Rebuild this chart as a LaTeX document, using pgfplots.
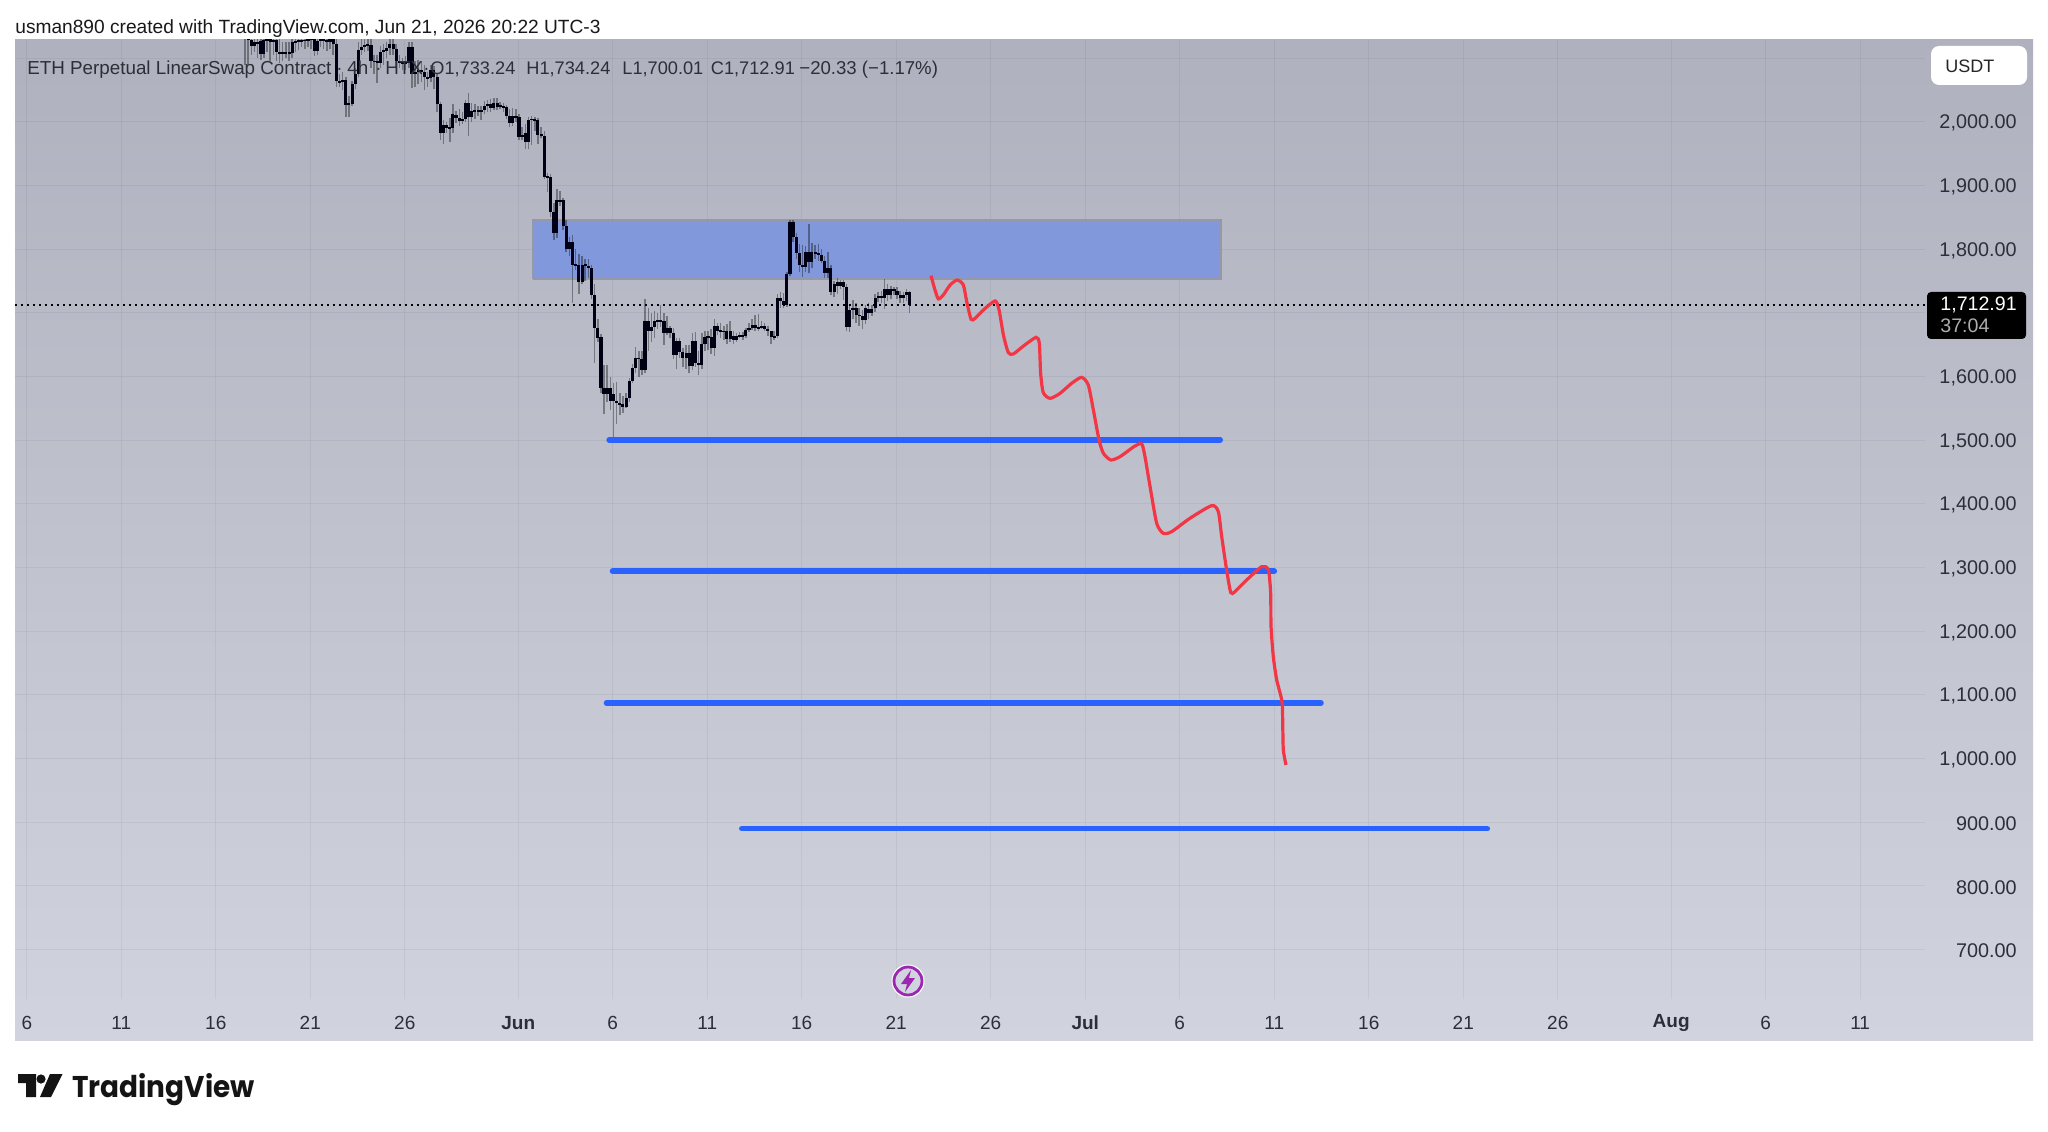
\documentclass[border=0pt]{standalone}
\usepackage{graphicx}
\usepackage{pgfplots}
\usepackage{pgfplotstable}
\usepackage{fontspec}
\pgfplotsset{compat=1.18}
\setmainfont{Liberation Sans}
\newfontfamily\logofont{Poppins}
\definecolor{bgtop}{RGB}{175,178,190}
\definecolor{bgbot}{RGB}{209,212,222}
\definecolor{tvtext}{RGB}{45,47,56}
\definecolor{hdr}{RGB}{45,47,56}
\definecolor{tvblue}{RGB}{41,98,255}
\definecolor{tvred}{RGB}{242,54,69}
\definecolor{boxfill}{RGB}{125,150,222}
\definecolor{boxline}{RGB}{150,153,165}
\definecolor{tvpurple}{RGB}{156,39,176}
\tikzset{px/.style={x=0.5pt,y=-0.5pt,yshift=565.5pt}}
\pgfplotstableread{
d o c h l
17.54 2135 2140 2150 2090
17.71 2140 2128 2150 2090
17.88 2128 2120 2145 2105
18.04 2120 2125 2145 2110
18.21 2125 2122 2140 2100
18.38 2127 2106 2140 2098
18.54 2106 2128 2145 2100
18.71 2128 2130 2150 2110
18.88 2130 2126 2150 2095
19.04 2126 2128 2145 2105
19.21 2128 2110 2145 2095
19.38 2110 2108 2130 2092
19.54 2108 2110 2125 2095
19.71 2110 2107 2125 2100
19.88 2107 2109 2125 2095
20.04 2109 2125 2135 2100
20.21 2125 2127 2135 2110
20.38 2127 2128 2138 2113
20.54 2128 2127 2140 2118
20.71 2127 2129 2140 2115
20.88 2129 2128 2145 2118
21.04 2128 2131 2145 2115
21.21 2131 2112 2145 2103
21.38 2112 2127 2140 2105
21.54 2127 2130 2145 2118
21.71 2130 2128 2142 2115
21.88 2128 2125 2140 2112
22.04 2125 2130 2142 2115
22.21 2130 2122 2140 2105
22.38 2122 2064 2135 2055
22.54 2064 2062 2075 2055
22.71 2062 2066 2078 2050
22.88 2066 2027 2070 2008
23.04 2027 2029 2040 2008
23.21 2028 2059 2065 2025
23.38 2059 2075 2085 2052
23.54 2075 2113 2125 2070
23.71 2113 2117 2132 2105
23.88 2117 2121 2135 2110
24.04 2121 2120 2135 2112
24.21 2121 2095 2130 2085
24.38 2095 2095 2105 2075
24.54 2095 2093 2105 2061
24.71 2093 2110 2120 2085
24.88 2110 2112 2122 2090
25.04 2112 2116 2125 2100
25.21 2116 2122 2130 2105
25.38 2122 2114 2130 2105
25.54 2114 2095 2122 2085
25.71 2095 2093 2105 2085
25.88 2093 2092 2100 2082
26.04 2092 2093 2103 2082
26.21 2092 2118 2125 2085
26.38 2118 2075 2125 2054
26.54 2075 2079 2095 2055
26.71 2079 2082 2098 2060
26.88 2082 2078 2095 2062
27.04 2078 2070 2090 2050
27.21 2070 2069 2078 2055
27.38 2069 2082 2090 2062
27.54 2082 2070 2088 2052
27.71 2070 2028 2075 2015
27.88 2028 1982 2032 1972
28.04 1982 1995 2003 1966
28.21 1995 1990 2000 1982
28.38 1991 1990 2006 1968
28.54 1990 2012 2028 1982
28.71 2011 2006 2017 1998
28.88 2006 2002 2020 1994
29.04 2002 2004 2016 1996
29.21 2004 2030 2035 2000
29.38 2030 2007 2046 1978
29.54 2007 2017 2030 2000
29.71 2018 2017 2028 2005
29.88 2017 2018 2025 2010
30.04 2018 2017 2025 2003
30.21 2018 2025 2033 2012
30.38 2025 2028 2035 2016
30.54 2028 2022 2036 2016
30.71 2022 2029 2038 2018
30.88 2029 2024 2037 2018
31.04 2025 2026 2032 2020
31.21 2025 2023 2030 2015
31.38 2023 2009 2027 2004
31.54 2009 1999 2020 1992
31.71 1999 2009 2022 1993
31.88 2009 2008 2020 2000
32.04 2008 1977 2012 1972
32.21 1977 1980 1992 1972
32.38 1982 1969 1997 1957
32.54 1969 2003 2008 1957
32.71 2003 2005 2010 1964
32.88 2004 2003 2008 1985
33.04 2003 1979 2006 1965
33.21 1979 1981 1992 1975
33.38 1978 1914 1985 1910
33.54 1914 1913 1920 1890
33.71 1913 1859 1918 1850
33.88 1859 1826 1872 1815
34.04 1826 1877 1895 1818
34.21 1877 1875 1892 1868
34.38 1877 1836 1880 1830
34.54 1836 1800 1846 1795
34.71 1800 1811 1820 1790
34.88 1811 1776 1822 1716
35.04 1776 1775 1800 1768
35.21 1775 1749 1793 1730
35.38 1749 1776 1790 1745
35.54 1777 1774 1785 1750
35.71 1774 1770 1785 1755
35.88 1770 1728 1775 1722
36.04 1728 1677 1745 1621
36.21 1677 1660 1690 1654
36.38 1662 1582 1667 1575
36.54 1582 1573 1618 1541
36.71 1573 1582 1618 1560
36.88 1582 1561 1600 1548
37.04 1561 1573 1590 1503
37.21 1561 1558 1591 1525
37.38 1558 1557 1575 1540
37.54 1557 1553 1570 1543
37.71 1553 1566 1575 1550
37.88 1566 1593 1598 1560
38.04 1593 1613 1620 1590
38.21 1613 1629 1646 1605
38.38 1629 1628 1640 1600
38.54 1628 1610 1640 1602
38.71 1610 1687 1722 1605
38.88 1687 1671 1708 1640
39.04 1671 1678 1700 1655
39.21 1678 1688 1703 1660
39.38 1688 1687 1700 1675
39.54 1687 1688 1713 1678
39.71 1688 1668 1700 1650
39.88 1668 1677 1695 1665
40.04 1677 1669 1680 1660
40.21 1669 1634 1676 1628
40.38 1634 1656 1660 1612
40.54 1656 1639 1660 1630
40.71 1639 1629 1645 1615
40.88 1629 1637 1650 1612
41.04 1637 1617 1650 1605
41.21 1617 1656 1668 1610
41.38 1656 1621 1670 1615
41.54 1621 1618 1640 1602
41.71 1618 1651 1668 1612
41.88 1651 1663 1672 1640
42.04 1663 1662 1672 1642
42.21 1662 1645 1675 1635
42.38 1645 1680 1691 1632
42.54 1680 1672 1685 1665
42.71 1672 1671 1685 1660
42.88 1671 1671 1680 1657
43.04 1671 1659 1682 1652
43.21 1659 1671 1688 1655
43.38 1664 1658 1672 1652
43.54 1658 1664 1668 1655
43.71 1664 1665 1670 1660
43.88 1665 1664 1670 1658
44.04 1664 1673 1676 1661
44.21 1673 1677 1685 1670
44.38 1677 1681 1690 1673
44.54 1681 1676 1696 1672
44.71 1676 1677 1698 1672
44.88 1677 1680 1688 1675
45.04 1680 1675 1684 1671
45.21 1675 1671 1680 1664
45.38 1671 1662 1672 1652
45.54 1662 1664 1672 1658
45.71 1664 1723 1730 1661
45.88 1723 1719 1733 1708
46.04 1719 1713 1731 1708
46.21 1713 1761 1765 1710
46.38 1761 1843 1846 1758
46.54 1843 1820 1846 1812
46.71 1820 1794 1826 1785
46.88 1794 1775 1808 1765
47.04 1775 1772 1807 1757
47.21 1772 1796 1805 1765
47.38 1796 1780 1840 1762
47.54 1780 1795 1810 1770
47.71 1795 1794 1806 1785
47.88 1794 1791 1809 1782
48.04 1791 1782 1800 1778
48.21 1782 1762 1790 1755
48.38 1762 1770 1795 1755
48.54 1770 1733 1775 1728
48.71 1733 1745 1750 1725
48.88 1749 1742 1755 1730
49.04 1742 1748 1752 1738
49.21 1748 1741 1752 1720
49.38 1741 1678 1745 1672
49.54 1678 1705 1712 1670
49.71 1705 1707 1720 1690
49.88 1707 1697 1715 1685
50.04 1697 1695 1708 1680
50.21 1695 1689 1705 1675
50.38 1689 1707 1712 1682
50.54 1707 1700 1715 1690
50.71 1700 1707 1712 1695
50.88 1707 1724 1730 1702
51.04 1724 1727 1733 1717
51.21 1727 1724 1735 1715
51.38 1724 1738 1754 1706
51.54 1738 1728 1745 1718
51.71 1728 1738 1742 1722
51.88 1738 1735 1741 1728
52.04 1735 1728 1740 1722
52.21 1728 1723 1735 1716
52.38 1723 1728 1733 1715
52.54 1728 1733 1738 1718
52.71 1733.24 1712.91 1734.24 1700.01
}\candles
\pgfplotstableread{
d p
53.84 1758.6
54.05 1736.1
54.23 1722
54.49 1728.2
54.85 1743.9
55.23 1751.8
55.55 1743.9
55.73 1717.8
55.96 1690
56.17 1691.6
56.61 1704.7
57.23 1718.8
57.44 1704.7
57.67 1665.4
57.93 1637.7
58.2 1635.6
58.73 1648.1
59.4 1661.7
59.57 1652.3
59.64 1605.2
59.78 1574.8
60.14 1565.9
60.67 1573.8
61.28 1589.5
61.81 1598.9
62.16 1586.9
62.43 1547.6
62.73 1500.5
62.96 1479.6
63.35 1469.1
63.84 1474.3
64.63 1491.1
64.99 1494.2
65.16 1474.3
65.43 1427.2
65.78 1369.6
66.13 1353.9
66.57 1356.5
67.54 1377.5
68.69 1397.4
69.04 1388
69.22 1348.7
69.48 1296.3
69.7 1260.8
69.92 1262.3
70.54 1280.6
71.34 1301.6
71.69 1296.3
71.81 1259.7
71.83 1207.4
71.95 1160.2
72.13 1123.6
72.41 1089.6
72.45 1050.3
72.48 1013.6
72.62 990.1
}\redpath
\begin{document}
\begin{tikzpicture}
\begin{scope}[px]
\path[use as bounding box,fill=white] (0,0) rectangle (2048,1131);
\shade[top color=bgtop,bottom color=bgbot] (15,40) rectangle (2033,1040);
\end{scope}
\begin{axis}[
  at={(7.5pt,66pt)},anchor=south west,
  scale only axis,width=955pt,height=479.5pt,
  xmin=5.376,xmax=106.43,ymin=622.5,ymax=2128.7,
  axis line style={draw=none},
  major tick length=0pt,tick style={draw=none},
  grid=major,grid style={black,opacity=0.05,line width=0.5pt},
  xtick={6,11,16,21,26,32,37,42,47,52,57,62,67,72,77,82,87,93,98,103},
  xticklabels={6,11,16,21,26,{\bfseries Jun},6,11,16,21,26,{\bfseries Jul},6,11,16,21,26,{\bfseries Aug},6,11},
  ytick={700,800,900,1000,1100,1200,1300,1400,1500,1600,1800,1900,2000},
  extra y ticks={1700,2100},extra y tick labels={},
  extra y tick style={grid=major},
  yticklabel pos=right,
  scaled y ticks=false,
  y tick label style={anchor=east,xshift=49.3pt,yshift=-0.6pt,text=tvtext,font=\fontsize{9.9}{12}\selectfont,
    /pgf/number format/.cd,fixed,fixed zerofill,precision=2,1000 sep={,},assume math mode=true},
  x tick label style={anchor=center,yshift=-12pt,text=tvtext,font=\fontsize{9.5}{12}\selectfont},
]
\addplot[fill=boxfill,draw=boxline,line width=1pt,fill opacity=0.92] coordinates {(32.8,1754)(69.17,1754)(69.17,1846)(32.8,1846)(32.8,1754)};
\addplot[black,line width=0.8pt,dash pattern=on 1pt off 2pt] coordinates {(5.376,1712.91)(106.43,1712.91)};
\addplot[draw=none,no markers,error bars/.cd,y dir=plus,y explicit,error mark=none,error bar style={draw=black,draw opacity=0.36,line width=0.75pt}]
  table[x=d,y=l,y error plus expr=\thisrow{h}-\thisrow{l}] {\candles};
\addplot[draw=none,no markers,error bars/.cd,y dir=both,y explicit,error mark=none,error bar style={draw=black!92!blue,line width=1.55pt}]
  table[x=d,y expr=(\thisrow{o}+\thisrow{c})/2,y error expr={max(abs(\thisrow{c}-\thisrow{o})/2,1.4)}] {\candles};
\addplot[tvblue,line width=2.8pt,line cap=round] coordinates {(36.81,1500.5)(69.14,1500.5)};
\addplot[tvblue,line width=2.8pt,line cap=round] coordinates {(36.99,1294.3)(72.0,1294.3)};
\addplot[tvblue,line width=2.8pt,line cap=round] coordinates {(36.67,1087.4)(74.47,1087.4)};
\addplot[tvblue,line width=2.8pt,line cap=round] coordinates {(43.83,890)(83.27,890)};
\addplot[tvred,line width=1.6pt,smooth,tension=0.4] table[x=d,y=p] {\redpath};
\end{axis}
\begin{scope}[px]
% header
\node[anchor=base west,inner sep=0,text=black!90,font=\fontsize{9.57}{12}\selectfont] at (15,34) {usman890 created with TradingView.com, Jun 21, 2026 20:22 UTC-3};
% legend line
\begin{scope}[every node/.style={anchor=base west,inner sep=0,text=hdr,font=\fontsize{9.4}{12}\selectfont}]
\node at (27,75) {ETH Perpetual LinearSwap Contract};
\node at (336,75) {·};
\node at (347,75) {4h};
\node at (375,75) {·};
\node at (385,75) {HTX};
\node at (423,75) {·};
\node[font=\fontsize{9.1}{12}\selectfont] at (430,75) {O1,733.24};
\node[font=\fontsize{9.1}{12}\selectfont] at (526,75) {H1,734.24};
\node[font=\fontsize{9.1}{12}\selectfont] at (622,75) {L1,700.01};
\node[font=\fontsize{9.1}{12}\selectfont] at (710.5,75) {C1,712.91};
\node[font=\fontsize{9.3}{12}\selectfont] at (799,75) {−20.33 (−1.17\%)};
\end{scope}
% USDT button
\fill[white,rounded corners=4] (1931,46) rectangle (2027,85);
\node[anchor=base west,inner sep=0,text=black!85,font=\fontsize{9}{12}\selectfont] at (1945,73) {USDT};
% last price label
\fill[black,rounded corners=2] (1927,292) rectangle (2026,339);
\node[anchor=base west,inner sep=0,text=white,font=\fontsize{9.8}{12}\selectfont] at (1940,311) {1,712.91};
\node[anchor=base west,inner sep=0,text=white!68!black,font=\fontsize{9.8}{12}\selectfont] at (1940,332.5) {37:04};
% event icon
\fill[white] (908,981) circle (16.5);
\draw[tvpurple,fill=bgbot,line width=1.4pt] (908,981) circle (14);
\fill[tvpurple] (911,970) -- (901,984) -- (907,984) -- (905,992) -- (915,978) -- (909,978) -- cycle;
% logo
\fill[black!92] (18,1074) -- (36,1074) -- (36,1097) -- (26,1097) -- (26,1083) -- (18,1083) -- cycle;
\fill[black!92] (41,1079) circle (4.6);
\fill[black!92] (50,1074) -- (62.5,1074) -- (51,1097) -- (40,1097) -- cycle;
\node[anchor=base west,inner sep=0,text=black!92,font=\logofont\bfseries\fontsize{15}{18}\selectfont] at (72,1097) {\scalebox{0.93}[1]{TradingView}};
\end{scope}
\end{tikzpicture}
\end{document}
